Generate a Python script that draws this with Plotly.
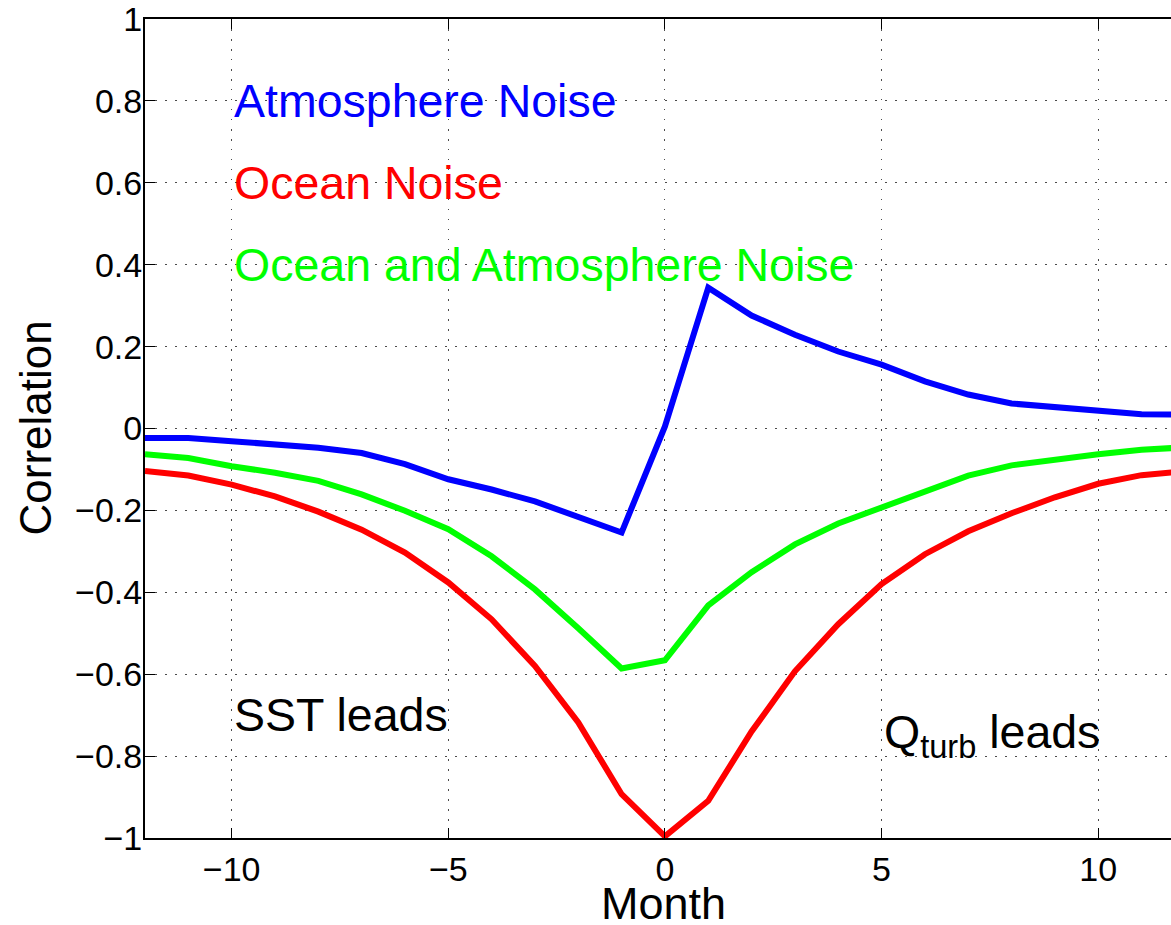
import plotly.graph_objects as go

months = list(range(-12, 13))
atmos_noise = [-0.023, -0.023, -0.031, -0.039, -0.047, -0.06, -0.087, -0.124, -0.149, -0.178,
               -0.217, -0.254, 0.005, 0.344, 0.276, 0.229, 0.188, 0.156, 0.115, 0.083,
               0.061, 0.052, 0.044, 0.035, 0.034]
ocean_noise = [-0.104, -0.115, -0.137, -0.166, -0.203, -0.247, -0.303, -0.376, -0.466, -0.58,
               -0.718, -0.893, -0.996, -0.909, -0.74, -0.593, -0.478, -0.38, -0.307, -0.251,
               -0.207, -0.168, -0.135, -0.114, -0.104]
both_noise = [-0.063, -0.072, -0.092, -0.108, -0.128, -0.161, -0.201, -0.246, -0.312, -0.393,
              -0.488, -0.586, -0.566, -0.432, -0.351, -0.283, -0.232, -0.193, -0.154, -0.115,
              -0.09, -0.076, -0.063, -0.052, -0.046]

series_names = ["Atmosphere Noise", "Ocean Noise", "Ocean and Atmosphere Noise"]
series_colors = ["#0000FF", "#FF0000", "#00FF00"]
label_y = [0.8, 0.6, 0.4]

x_tickvals = [-10, -5, 0, 5, 10]
x_ticktext = ["\u221210", "\u22125", "0", "5", "10"]
y_tickvals = [-1, -0.8, -0.6, -0.4, -0.2, 0, 0.2, 0.4, 0.6, 0.8, 1]
y_ticktext = ["\u22121", "\u22120.8", "\u22120.6", "\u22120.4", "\u22120.2", "0",
              "0.2", "0.4", "0.6", "0.8", "1"]

FONT = "Liberation Sans, Arial, Helvetica, sans-serif"

fig = go.Figure()
for name, vals, col in zip(series_names, [atmos_noise, ocean_noise, both_noise], series_colors):
    fig.add_trace(go.Scatter(x=months, y=vals, mode="lines", name=name,
                             line=dict(color=col, width=6)))

for name, col, yy in zip(series_names, series_colors, label_y):
    fig.add_annotation(x=-10, y=yy, xref="x", yref="y", text=name, showarrow=False,
                       xanchor="left", yanchor="middle",
                       font=dict(family=FONT, size=46.5, color=col))

fig.add_annotation(x=-10, y=-0.7, xref="x", yref="y", text="SST leads", showarrow=False,
                   xanchor="left", yanchor="middle", font=dict(family=FONT, size=46.5, color="black"))
fig.add_annotation(x=5, y=-0.75, xref="x", yref="y", text="Q<sub>turb</sub> leads", showarrow=False,
                   xanchor="left", yanchor="middle", font=dict(family=FONT, size=46.5, color="black"))

# axis titles
fig.add_annotation(x=0.5058, y=-0.0794, xref="paper", yref="paper", text="Month", showarrow=False,
                   xanchor="center", yanchor="middle", font=dict(family=FONT, size=45, color="black"))
fig.add_annotation(x=-0.1072, y=0.5, xref="paper", yref="paper", text="Correlation", showarrow=False,
                   textangle=-90, xanchor="center", yanchor="middle",
                   font=dict(family=FONT, size=44, color="black"))

fig.update_layout(
    width=1171, height=925,
    margin=dict(l=145, r=0, t=19, b=87),
    paper_bgcolor="white", plot_bgcolor="white",
    showlegend=False,
    font=dict(family=FONT, color="black"),
)
fig.update_xaxes(
    range=[-12, 11.68], tickvals=x_tickvals, ticktext=x_ticktext,
    showline=True, linecolor="black", linewidth=2, mirror="ticks",
    ticks="inside", ticklen=10, tickcolor="black", tickwidth=1,
    showgrid=True, gridcolor="#4a4a4a", griddash="1.5px,8.5px", gridwidth=1,
    zeroline=False,
    tickfont=dict(family=FONT, size=34, color="black"),
)
fig.update_yaxes(
    range=[-1, 1], tickvals=y_tickvals, ticktext=y_ticktext,
    showline=True, linecolor="black", linewidth=2, mirror=False,
    ticks="inside", ticklen=10, tickcolor="black", tickwidth=1,
    showgrid=True, gridcolor="#4a4a4a", griddash="1.5px,8.5px", gridwidth=1,
    zeroline=False, ticklabelstandoff=-6, ticklabeloverflow="allow",
    tickfont=dict(family=FONT, size=34, color="black"),
)

fig.write_html("out.html", config={"displayModeBar": False},
               post_script="document.body.style.margin='0';")
